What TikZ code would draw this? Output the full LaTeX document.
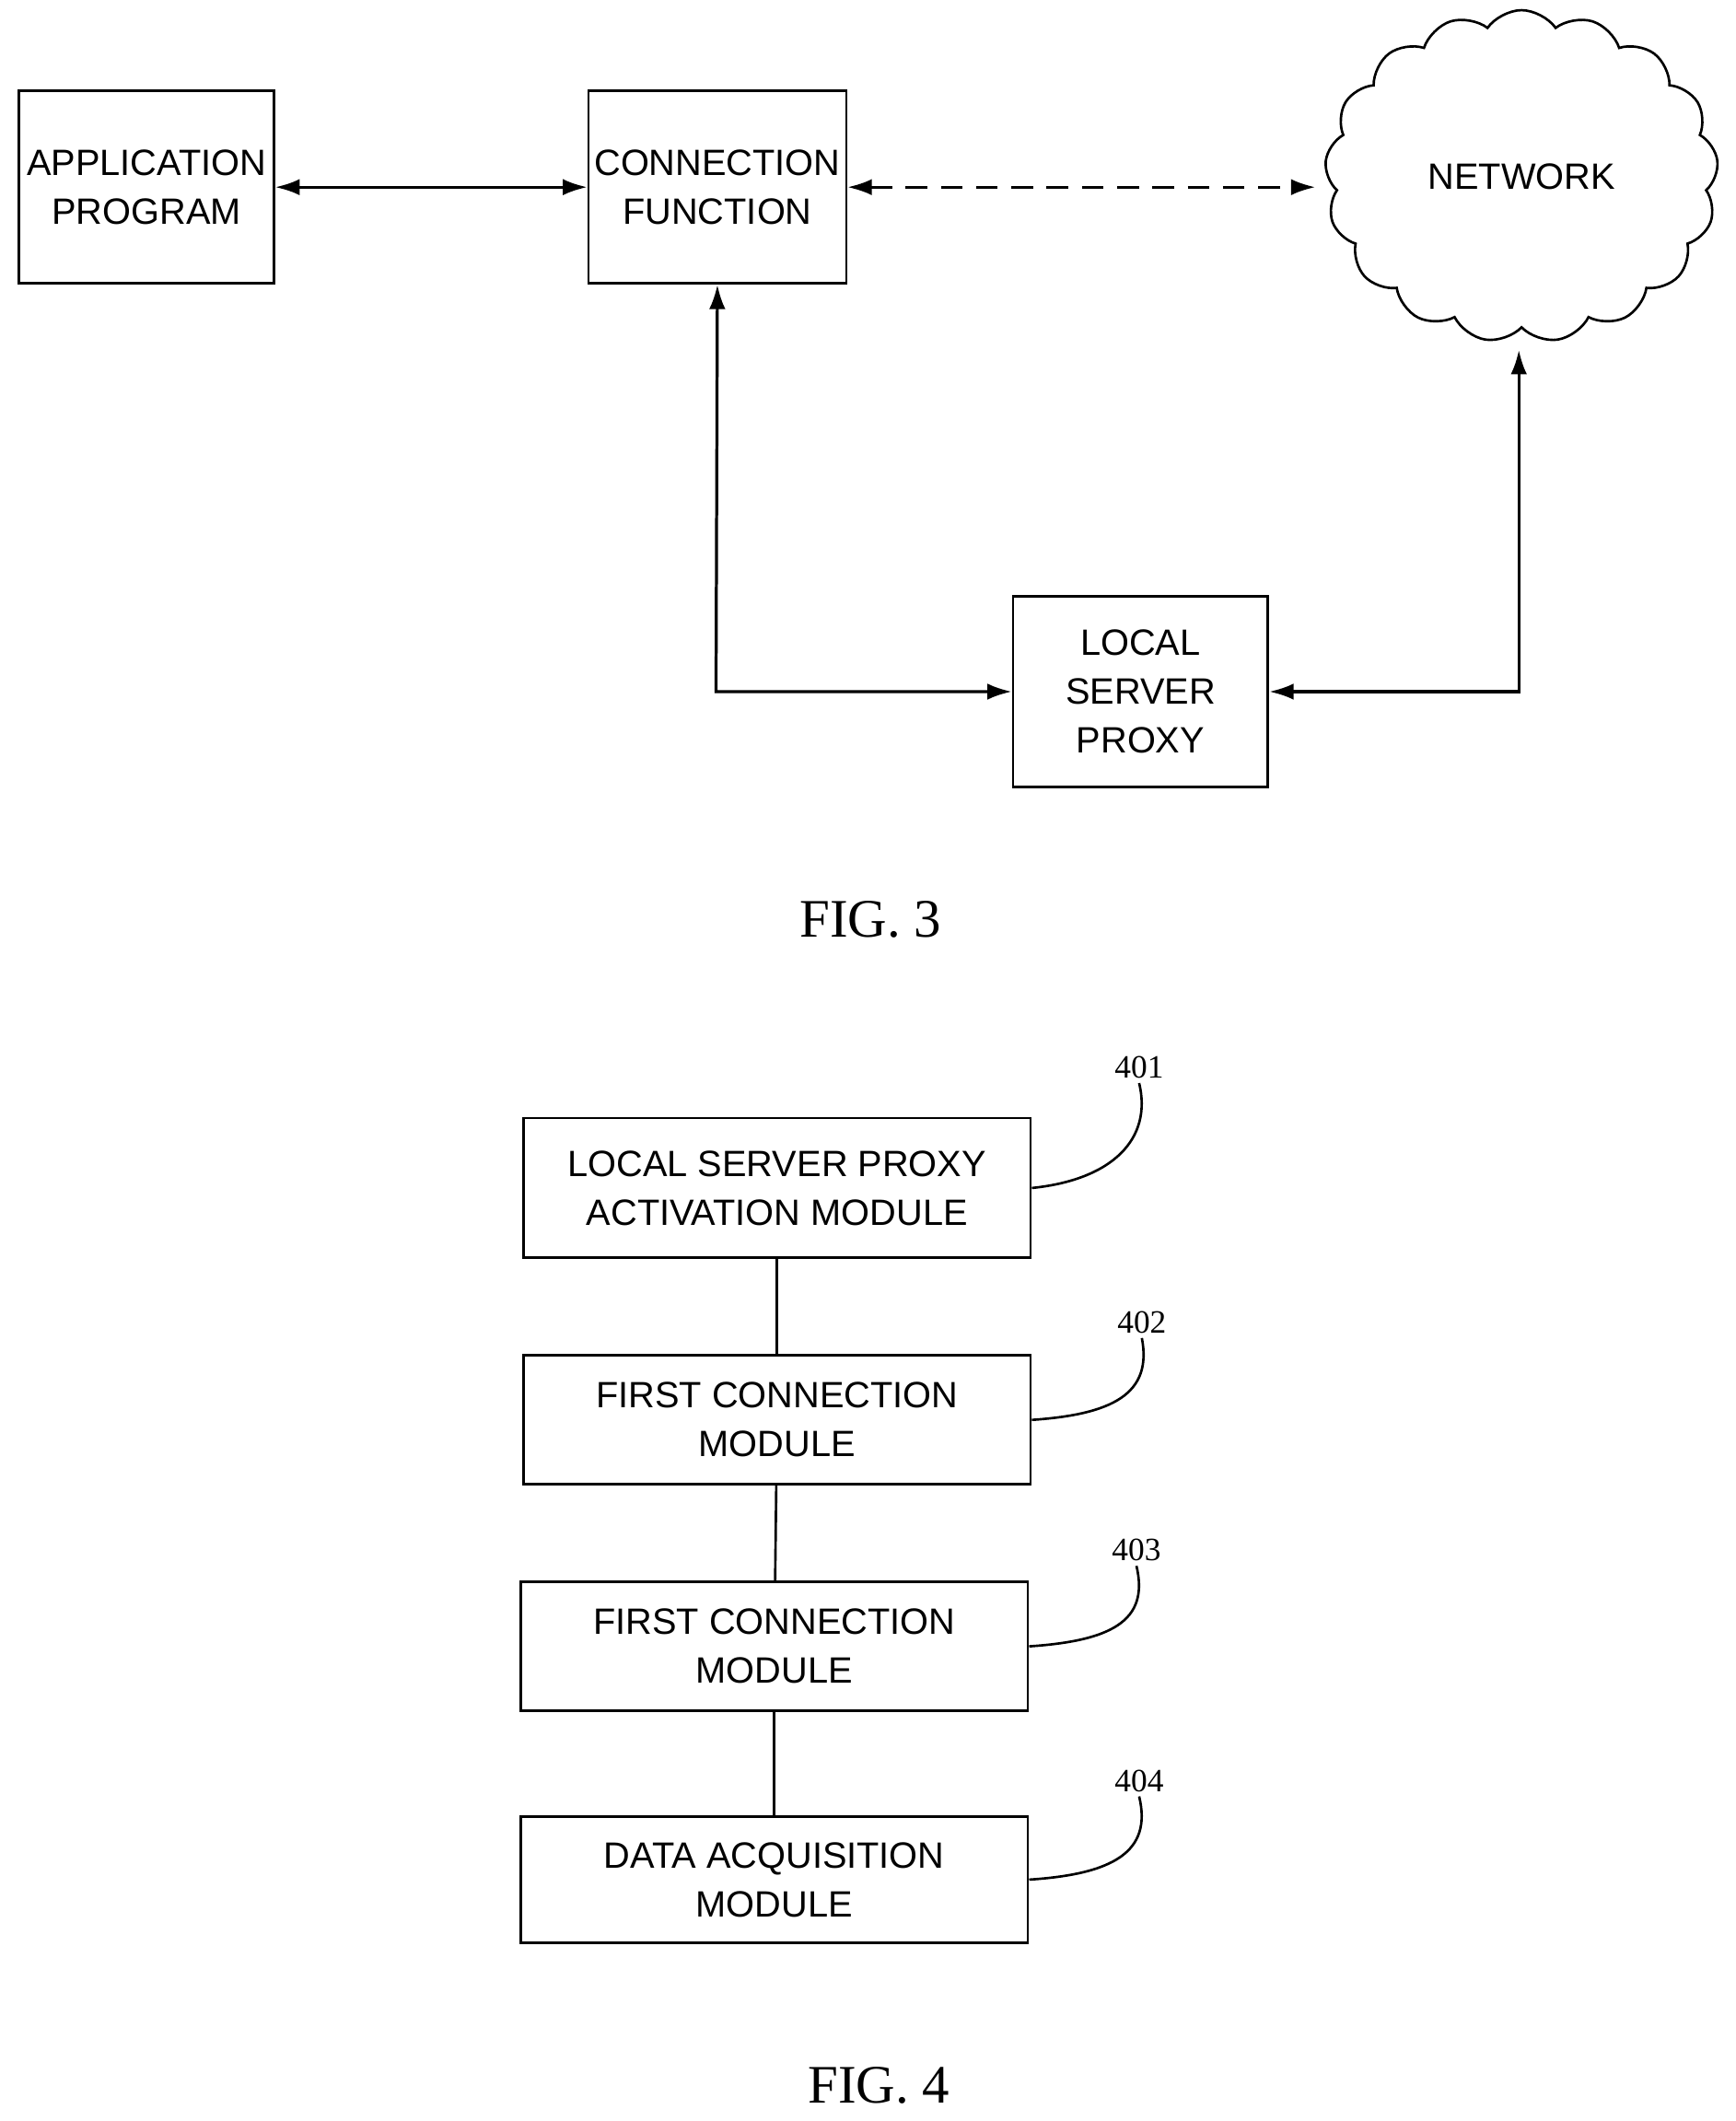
\documentclass[tikz,border=0pt]{standalone}
\usepackage{fontspec}
\setmainfont{Liberation Sans}
\newfontfamily\figfont{Liberation Serif}
\usetikzlibrary{shapes.symbols,arrows.meta}
\begin{document}
\begin{tikzpicture}[x=1pt,y=-1pt,
  box/.style={draw,line width=1.8pt,align=center,inner sep=0pt,font=\fontsize{27}{36}\selectfont},
  arr/.style={line width=2.2pt,{Latex[length=18pt,width=12pt]}-{Latex[length=18pt,width=12pt]}},
  ln/.style={line width=1.8pt},
  lab/.style={font=\figfont\fontsize{24}{28}\selectfont},
  fig/.style={font=\figfont\fontsize{40}{44}\selectfont}]
\useasboundingbox (0,0) rectangle (1280,1564);
\node[box,minimum width=188pt,minimum height=142pt] (app) at (108,138) {APPLICATION\\PROGRAM};
\node[box,minimum width=190pt,minimum height=142pt] (conn) at (529,138) {CONNECTION\\FUNCTION};
\node[cloud,draw,line width=1.8pt,cloud puffs=17,cloud puff arc=110,aspect=1.15,minimum width=290pt,minimum height=245pt,font=\fontsize{27}{36}\selectfont] (net) at (1122,130) {NETWORK};
\node[box,minimum width=188pt,minimum height=141pt] (lsp) at (841,510) {LOCAL\\SERVER\\PROXY};
\coordinate (c1) at (528,510);
\coordinate (c2) at (1120,510);
\draw[arr] (app.east) -- (conn.east -| conn.west);
\draw[arr,dashed,dash pattern=on 16pt off 10pt] (conn.east) -- (970,138);
\draw[arr] (conn.south) -- (c1) -- (lsp.west);
\draw[arr] (lsp.east) -- (c2) -- (1120,258);
\node[fig] (f3) at (642,678) {FIG. 3};

\node[box,minimum width=374pt,minimum height=103pt] (b1) at (573,876) {LOCAL SERVER PROXY\\ACTIVATION MODULE};
\node[box,minimum width=374pt,minimum height=95pt] (b2) at (573,1047) {FIRST CONNECTION\\MODULE};
\node[box,minimum width=374pt,minimum height=95pt] (b3) at (571,1214) {FIRST CONNECTION\\MODULE};
\node[box,minimum width=374pt,minimum height=93pt] (b4) at (571,1386) {DATA ACQUISITION\\MODULE};
\draw[ln] (b1) -- (b2); \draw[ln] (b2) -- (b3); \draw[ln] (b3) -- (b4);
\node[lab] (l1) at (840,787) {401};
\node[lab] (l2) at (842,975) {402};
\node[lab] (l3) at (838,1143) {403};
\node[lab] (l4) at (840,1313) {404};
\draw[ln] (b1.east |- 0,876) .. controls (820,870) and (850,840) .. (l1.south);
\draw[ln] (b2.east |- 0,1047) .. controls (820,1043) and (850,1028) .. (l2.south);
\draw[ln] (b3.east |- 0,1214) .. controls (818,1210) and (848,1196) .. (l3.south);
\draw[ln] (b4.east |- 0,1386) .. controls (820,1382) and (850,1366) .. (l4.south);
\node[fig] (f4) at (648,1538) {FIG. 4};
\end{tikzpicture}
\end{document}
